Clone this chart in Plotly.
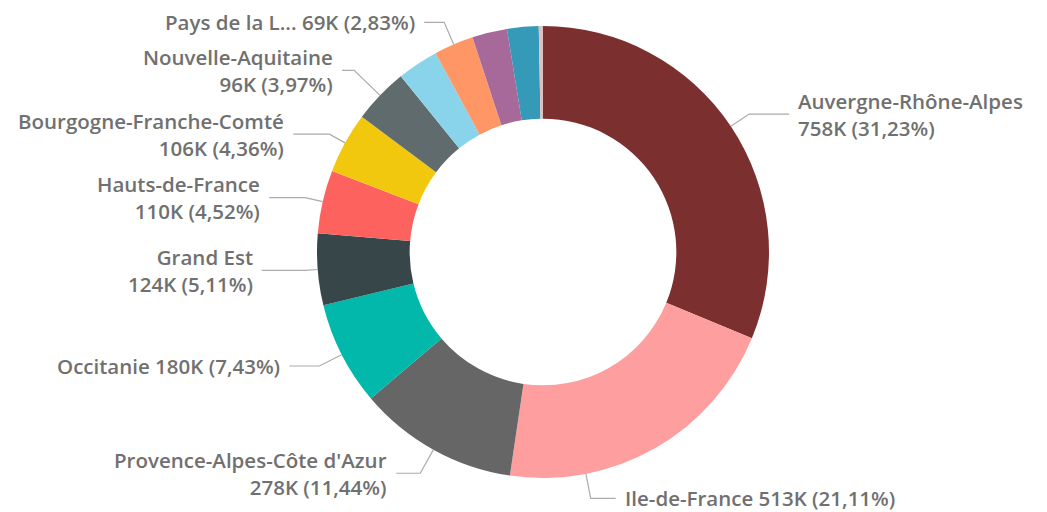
import math
import plotly.graph_objects as go

# ---- data ----
regions = ["Auvergne-Rhône-Alpes", "Ile-de-France", "Provence-Alpes-Côte d'Azur",
           "Occitanie", "Grand Est", "Hauts-de-France", "Bourgogne-Franche-Comté",
           "Nouvelle-Aquitaine", "Normandie", "Pays de la Loire", "Bretagne",
           "Centre-Val de Loire", "Corse"]
display_names = ["Auvergne-Rhône-Alpes", "Ile-de-France", "Provence-Alpes-Côte d'Azur",
                 "Occitanie", "Grand Est", "Hauts-de-France", "Bourgogne-Franche-Comté",
                 "Nouvelle-Aquitaine", "Normandie", "Pays de la L...", "Bretagne",
                 "Centre-Val de Loire", "Corse"]
values_k = [758, 513, 278, 180, 124, 110, 106, 96, 72, 69, 61, 55, 7]
share_pct = [31.23, 21.11, 11.44, 7.43, 5.11, 4.52, 4.36, 3.97, 2.95, 2.83, 2.50, 2.25, 0.30]
colors = ["#7B2F2F", "#FF9E9E", "#666666", "#01B8AA", "#374649", "#FD625E",
          "#F2C80F", "#5F6B6D", "#8AD4EB", "#FE9666", "#A66999", "#3599B8", "#DFBFBF"]
labelled = [True, True, True, True, True, True, True, True, False, True, False, False, False]

# ---- layout / style ----
W, H = 1047, 512
CX, CY, R = 543, 252, 226          # pie centre and radius in px
HOLE = 0.59
# per-label style: (position inside slice 0..1, radial leader length, horizontal length, two-line)
label_style = {
    0: (0.5, 22, 40, True),
    1: (0.745, 25, 25, False),
    2: (0.5, 27, 24, True),
    3: (0.5, 25, 30, False),
    4: (0.5, 12, 44, True),
    5: (0.5, 18, 36, True),
    6: (0.5, 18, 36, True),
    7: (0.5, 36, 12, True),
    9: (0.5, 24, 20, False),
}
TEXT_COLOR = "#707070"
LINE_COLOR = "#ABABAB"
FONT = dict(family="'Open Sans', Roboto, sans-serif", size=20.5, color=TEXT_COLOR, weight=600)


def px2paper(x, y):
    return x / W, 1 - y / H


fig = go.Figure(go.Pie(
    labels=regions,
    values=share_pct,
    customdata=values_k,
    hole=HOLE,
    sort=False,
    direction="clockwise",
    rotation=0,
    marker=dict(colors=colors, line=dict(width=0)),
    textinfo="none",
    hovertemplate="%{label}<br>%{customdata}K<extra></extra>",
    domain=dict(x=[(CX - R) / W, (CX + R) / W],
                y=[1 - (CY + R) / H, 1 - (CY - R) / H]),
    showlegend=False,
))

shapes, annotations = [], []
total = sum(share_pct)
cum = 0.0
for i, (name, val, pct) in enumerate(zip(display_names, values_k, share_pct)):
    start = cum
    cum += pct
    if not labelled[i]:
        continue
    frac, radial, horiz, two = label_style[i]
    theta = math.radians(360 * (start + frac * pct) / total)
    dx, dy = math.sin(theta), -math.cos(theta)
    ax, ay = CX + R * dx, CY + R * dy
    ex, ey = ax + radial * dx, ay + radial * dy
    side = 1 if dx > 0 else -1
    hx = ex + side * horiz
    p0, p1, p2 = px2paper(ax, ay), px2paper(ex, ey), px2paper(hx, ey)
    shapes.append(dict(type="path", xref="paper", yref="paper",
                       path=f"M {p0[0]},{p0[1]} L {p1[0]},{p1[1]} L {p2[0]},{p2[1]}",
                       line=dict(color=LINE_COLOR, width=1.2)))
    pct_txt = f"{pct:.2f}".replace(".", ",")
    sep = "<br>" if two else " "
    text = f"{name}{sep}{val}K ({pct_txt}%)"
    tx, ty = px2paper(hx + side * 7, ey)
    annotations.append(dict(x=tx, y=ty, xref="paper", yref="paper", text=text,
                            showarrow=False, xanchor="left" if side > 0 else "right",
                            yanchor="middle", align="left" if side > 0 else "right",
                            font=FONT))

fig.update_layout(
    width=W, height=H,
    margin=dict(l=0, r=0, t=0, b=0),
    paper_bgcolor="white", plot_bgcolor="white",
    shapes=shapes, annotations=annotations,
)
fig.write_html("out.html", config={"displayModeBar": False},
               post_script="document.body.style.margin='0';document.body.style.overflow='hidden';")
